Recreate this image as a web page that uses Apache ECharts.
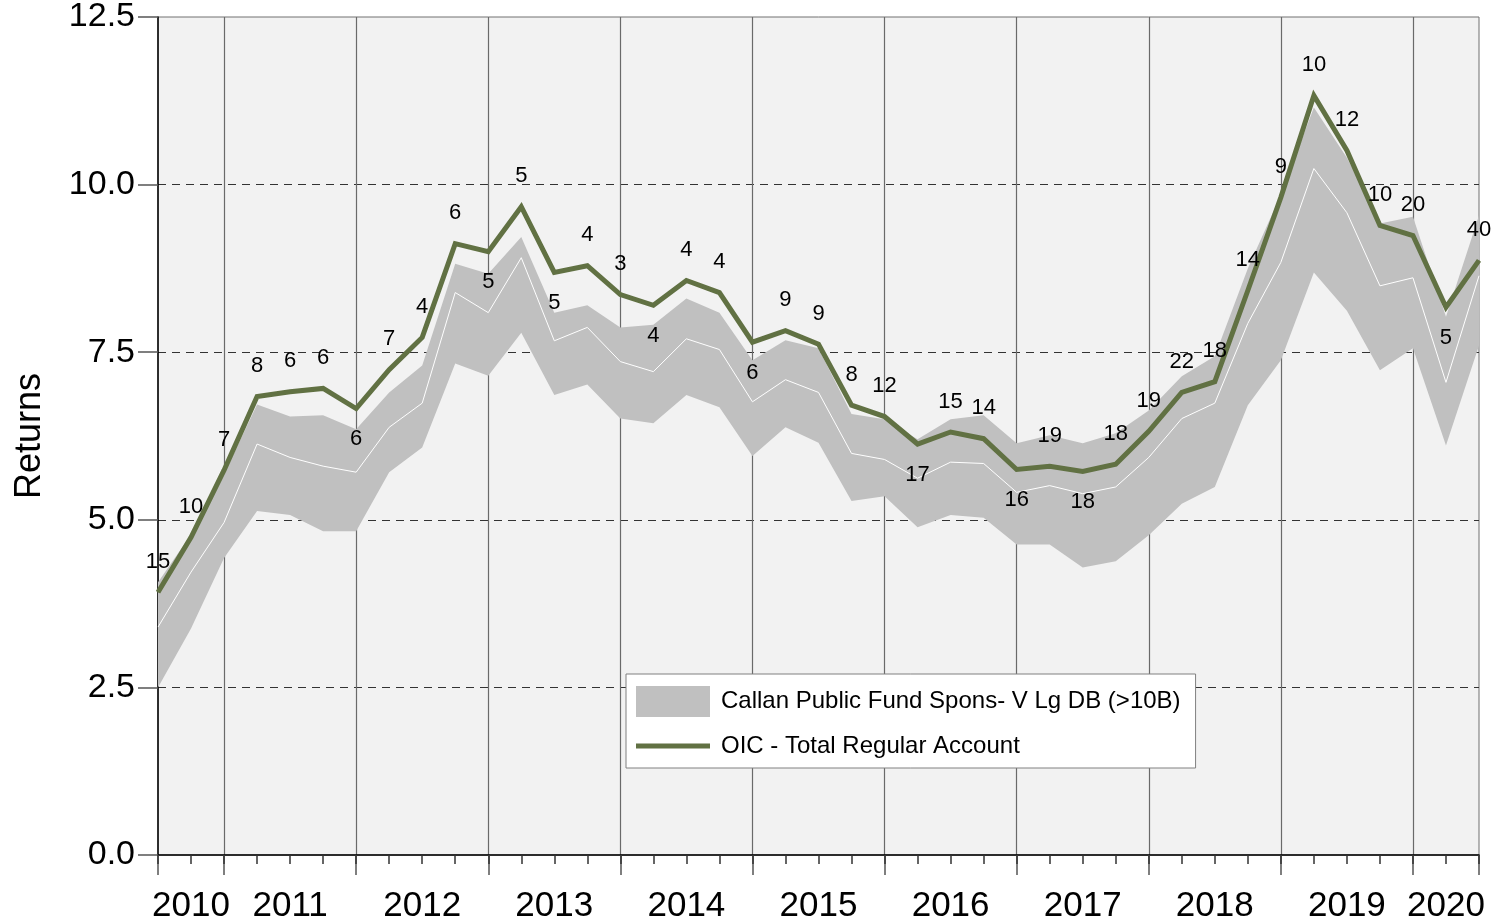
<!DOCTYPE html>
<html>
<head>
<meta charset="utf-8">
<title>Returns</title>
<script src="https://cdn.jsdelivr.net/npm/echarts@6/dist/echarts.min.js"></script>
<style>
  html, body { margin: 0; padding: 0; background: #fff; }
  #chart { width: 1497px; height: 924px; }
</style>
</head>
<body>
<div id="chart"></div>
<script>
// quarters, June 2010 .. June 2020
var quarters = ['2010Q2','2010Q3','2010Q4',
  '2011Q1','2011Q2','2011Q3','2011Q4','2012Q1','2012Q2','2012Q3','2012Q4',
  '2013Q1','2013Q2','2013Q3','2013Q4','2014Q1','2014Q2','2014Q3','2014Q4',
  '2015Q1','2015Q2','2015Q3','2015Q4','2016Q1','2016Q2','2016Q3','2016Q4',
  '2017Q1','2017Q2','2017Q3','2017Q4','2018Q1','2018Q2','2018Q3','2018Q4',
  '2019Q1','2019Q2','2019Q3','2019Q4','2020Q1','2020Q2'];
var yearLabels = ['2010','2011','2012','2013','2014','2015','2016','2017','2018','2019','2020'];
var yearLabelAt = [1,4,8,12,16,20,24,28,32,36,39];
var yTicks = [0, 2.5, 5, 7.5, 10, 12.5];

// Callan Public Fund Spons- V Lg DB (>10B): 10th pct, median, 90th pct
var upper = [4.07,4.78,5.68,6.72,6.54,6.56,6.35,6.90,7.30,8.82,8.67,9.22,8.09,8.20,7.87,
  7.91,8.30,8.09,7.38,7.68,7.56,6.58,6.50,6.20,6.50,6.56,6.14,6.26,6.14,6.29,
  6.63,7.14,7.44,8.75,9.85,11.15,10.40,9.42,9.52,8.03,9.54];
var median = [3.40,4.22,4.96,6.13,5.93,5.80,5.71,6.38,6.74,8.39,8.09,8.91,7.67,7.87,7.36,
  7.21,7.70,7.54,6.76,7.09,6.90,5.99,5.90,5.62,5.86,5.84,5.41,5.51,5.39,5.49,
  5.93,6.51,6.74,7.93,8.84,10.24,9.58,8.49,8.61,7.05,8.64];
var lower = [2.50,3.38,4.43,5.13,5.07,4.83,4.83,5.71,6.08,7.33,7.15,7.79,6.86,7.02,6.51,
  6.44,6.86,6.68,5.95,6.38,6.15,5.28,5.35,4.89,5.07,5.03,4.63,4.63,4.29,4.38,
  4.77,5.24,5.49,6.71,7.38,8.69,8.12,7.23,7.56,6.11,7.60];

// OIC - Total Regular Account and its rank in the group
var oic = [3.92,4.74,5.74,6.84,6.91,6.96,6.66,7.24,7.72,9.12,9.00,9.67,8.69,8.79,8.36,
  8.20,8.57,8.39,7.65,7.82,7.62,6.71,6.54,6.13,6.31,6.21,5.75,5.80,5.72,5.83,
  6.32,6.90,7.06,8.42,9.81,11.33,10.51,9.39,9.24,8.17,8.87];
var ranks = [15,10,7,8,6,6,6,7,4,6,5,5,5,4,3,4,4,4,6,9,9,8,12,17,15,14,16,19,18,18,
  19,22,18,14,9,10,12,10,20,5,40];

var bandName = 'Callan Public Fund Spons- V Lg DB (>10B)';
var oicName = 'OIC - Total Regular Account';

// label placement (below the point for these)
var labelBelow = [6,10,12,15,18,23,26,28,39];

var FONT = '"Liberation Sans", Arial, sans-serif';

function isYearEnd(i) { return quarters[i].slice(-2) === 'Q4'; }

var myChart = echarts.init(document.getElementById('chart'));

var option = {
  animation: false,
  textStyle: { fontFamily: FONT },
  grid: {
    left: 158, right: 18, top: 16, bottom: 69,
    show: true,
    backgroundColor: '#f2f2f2',
    borderColor: '#707070',
    borderWidth: 1
  },
  legend: {
    orient: 'vertical',
    left: 626, top: 674,
    backgroundColor: '#fff',
    borderColor: '#808080',
    borderWidth: 1,
    padding: [12, 15, 10, 10],
    itemGap: 17,
    itemWidth: 74,
    itemHeight: 31,
    textStyle: { fontSize: 24, color: '#000', fontFamily: FONT, padding: [6, 0, 0, 6] },
    data: [
      { name: bandName, icon: 'rect' },
      { name: oicName, icon: 'path://M0,0H74V5H0Z' }
    ]
  },
  xAxis: [
    {
      type: 'category',
      data: quarters,
      boundaryGap: false,
      axisLine: { lineStyle: { color: '#000', width: 1.5 } },
      axisTick: {
        length: 20,
        interval: function (i) { return i === 0 || i === quarters.length - 1 || isYearEnd(i); },
        lineStyle: { color: '#555', width: 1.5 }
      },
      axisLabel: {
        interval: function (i) { return yearLabelAt.indexOf(i) >= 0; },
        formatter: function (v, i) { return yearLabels[yearLabelAt.indexOf(i)]; },
        fontSize: 35, color: '#000', margin: 34, fontFamily: FONT
      },
      splitLine: {
        show: true,
        interval: function (i) { return isYearEnd(i); },
        lineStyle: { color: '#6a6a6a', width: 1.2 }
      }
    },
    {
      // quarter ticks
      type: 'category',
      data: quarters,
      boundaryGap: false,
      position: 'bottom',
      axisLine: { show: false },
      axisTick: { length: 9, interval: 0, lineStyle: { color: '#333', width: 1.5 } },
      axisLabel: { show: false },
      splitLine: { show: false }
    }
  ],
  yAxis: {
    type: 'value',
    min: yTicks[0],
    max: yTicks[yTicks.length - 1],
    interval: 2.5,
    name: 'Returns',
    nameLocation: 'middle',
    nameGap: 110,
    nameTextStyle: { fontSize: 36, color: '#000', fontFamily: FONT },
    axisLine: { show: true, lineStyle: { color: '#000', width: 1.5 } },
    axisTick: { show: true, length: 20, lineStyle: { color: '#555', width: 1.5 } },
    axisLabel: {
      fontSize: 34, color: '#000', margin: 23, fontFamily: FONT,
      padding: [6, 0, 0, 0],
      formatter: function (v) { return v.toFixed(1); }
    },
    splitLine: {
      show: true,
      showMinLine: false,
      showMaxLine: false,
      lineStyle: { color: '#333', type: [8, 6], width: 1 }
    }
  },
  series: [
    {
      name: 'band-base',
      type: 'line',
      stack: 'band',
      data: lower,
      symbol: 'none',
      silent: true,
      lineStyle: { opacity: 0 }
    },
    {
      name: bandName,
      type: 'line',
      stack: 'band',
      data: upper.map(function (v, i) { return +(v - lower[i]).toFixed(4); }),
      symbol: 'none',
      silent: true,
      color: '#c0c0c0',
      lineStyle: { opacity: 0, width: 0 },
      areaStyle: { color: '#c0c0c0', opacity: 1 }
    },
    {
      name: 'median',
      type: 'line',
      data: median,
      symbol: 'none',
      silent: true,
      lineStyle: { color: '#ffffff', width: 1 }
    },
    {
      name: oicName,
      type: 'line',
      data: oic.map(function (v, i) {
        return { value: v, label: { position: labelBelow.indexOf(i) >= 0 ? 'bottom' : 'top' } };
      }),
      color: '#617143',
      symbol: 'circle',
      symbolSize: 1,
      lineStyle: { color: '#617143', width: 5, join: 'miter' },
      label: {
        show: true,
        distance: 19,
        fontSize: 22,
        color: '#000',
        fontFamily: FONT,
        formatter: function (p) { return String(ranks[p.dataIndex]); }
      },
      z: 5
    }
  ]
};

myChart.setOption(option);
</script>
</body>
</html>
